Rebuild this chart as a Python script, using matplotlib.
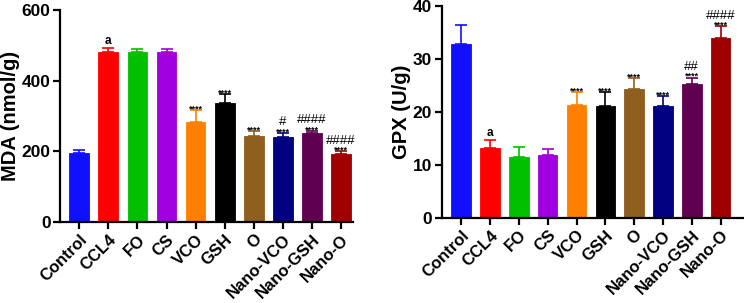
import numpy as np
import matplotlib
matplotlib.use("Agg")
import matplotlib.pyplot as plt

plt.rcParams['font.family'] = ['Liberation Sans', 'DejaVu Sans']
plt.rcParams['font.weight'] = 'bold'

groups = ['Control', 'CCL4', 'FO', 'CS', 'VCO', 'GSH', 'O', 'Nano-VCO', 'Nano-GSH', 'Nano-O']
colors = ['#1010ff', '#ff0000', '#00c000', '#a000e0', '#ff8000', '#000000',
          '#8f5f20', '#000080', '#600050', '#a00000']

mda_mean = [195, 480, 480, 481, 282, 336, 243, 241, 251, 192]
mda_err = [10, 12, 11, 10, 35, 26, 15, 12, 7, 8]
mda_stars = ['', 'a', '', '', '****', '****', '****', '****', '****', '****']
mda_hash = ['', '', '', '', '', '', '', '#', '####', '####']

gpx_mean = [32.9, 13.2, 11.5, 11.9, 21.3, 21.2, 24.4, 21.2, 25.2, 34.0]
gpx_err = [3.6, 1.5, 1.9, 1.1, 2.5, 2.6, 2.0, 1.8, 1.3, 2.2]
gpx_stars = ['', 'a', '', '', '****', '****', '****', '****', '****', '****']
gpx_hash = ['', '', '', '', '', '', '', '', '##', '####']

fig = plt.figure(figsize=(7.44, 3.03), dpi=100)
ax1 = fig.add_axes([0.081, 0.267, 0.394, 0.700])
ax2 = fig.add_axes([0.594, 0.281, 0.404, 0.699])


def draw(ax, mean, err, stars, hashes, ylim, step, ylabel, xlim):
    x = np.arange(len(groups))
    for i in x:
        ax.bar(i, mean[i], width=0.68, color=colors[i], edgecolor=colors[i], linewidth=0.6, zorder=2)
        ax.errorbar(i, mean[i], yerr=[[0], [err[i]]], fmt='none', ecolor=colors[i],
                    elinewidth=1.2, capsize=4, capthick=1.2, zorder=1)
        top = mean[i] + err[i]
        if stars[i] == 'a':
            ax.annotate('a', (i, top), xytext=(0, 1), textcoords='offset points',
                        ha='center', va='bottom', fontsize=8.5, fontweight='bold')
        elif stars[i]:
            ax.annotate(stars[i], (i, top), xytext=(0, -2.5), textcoords='offset points',
                        ha='center', va='bottom', fontsize=6.5, fontweight='bold')
            if hashes[i]:
                ax.annotate(hashes[i], (i, top), xytext=(0, 3.2), textcoords='offset points',
                            ha='center', va='bottom', fontsize=9.5, fontweight='normal')
    ax.set_xlim(*xlim)
    ax.set_ylim(*ylim)
    ax.set_yticks(np.arange(ylim[0], ylim[1] + step / 2, step))
    ax.set_xticks(x)
    ax.set_xticklabels(groups, rotation=45, ha='right', rotation_mode='anchor',
                       fontsize=12, fontweight='bold')
    ax.set_ylabel(ylabel, fontsize=14.5, fontweight='bold', labelpad=1)
    for lab in ax.get_yticklabels():
        lab.set_fontweight('bold')
        lab.set_fontsize(12.5)
    for s in ['top', 'right']:
        ax.spines[s].set_visible(False)
    for s in ['left', 'bottom']:
        ax.spines[s].set_linewidth(1.6)
    ax.tick_params(axis='both', width=1.6, length=5, pad=2)


draw(ax1, mda_mean, mda_err, mda_stars, mda_hash, (0, 600), 200, 'MDA (nmol/g)', (-0.655, 9.43))
draw(ax2, gpx_mean, gpx_err, gpx_stars, gpx_hash, (0, 40), 10, 'GPX (U/g)', (-0.67, 9.76))

fig.savefig('out.png', dpi=100)
